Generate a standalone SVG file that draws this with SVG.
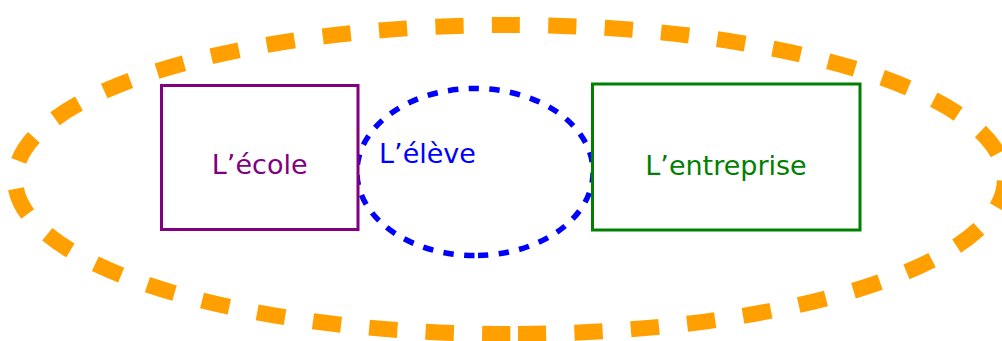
<svg xmlns="http://www.w3.org/2000/svg" width="1002" height="341" viewBox="0 0 1002 341">
<style>
.lbl{font-family:"DejaVu Sans","Verdana",sans-serif;font-size:27px}
.box{fill:#ffffff;stroke-width:3}
</style>
<rect width="1002" height="341" fill="#ffffff"/>
<g id="outer">
<path d="M518,334 A495,154.5 0 0 0 502,25 A495,154.5 0 0 0 518,334" pathLength="2183" fill="none" stroke="#ffa000" stroke-width="16" stroke-dasharray="28.25 28.25"/>
</g>
<g id="eleve">
<path d="M478,255.5 A118,83.5 0 0 0 472,88.5 A118,83.5 0 0 0 478,255.5" pathLength="638" fill="none" stroke="#0000ff" stroke-width="5.5" stroke-dasharray="10.4 10.4"/>
<text class="lbl" x="379" y="163" fill="#0000ff">L’élève</text>
</g>
<g id="ecole">
<rect class="box" x="161.5" y="85.5" width="196.5" height="144" stroke="#800080"/>
<text class="lbl" x="259.7" y="173.5" fill="#800080" text-anchor="middle">L’école</text>
</g>
<g id="entreprise">
<rect class="box" x="592.5" y="84" width="267.5" height="146" stroke="#008000"/>
<text class="lbl" x="726" y="175" fill="#008000" text-anchor="middle">L’entreprise</text>
</g>
<g id="connectors"/>
</svg>
